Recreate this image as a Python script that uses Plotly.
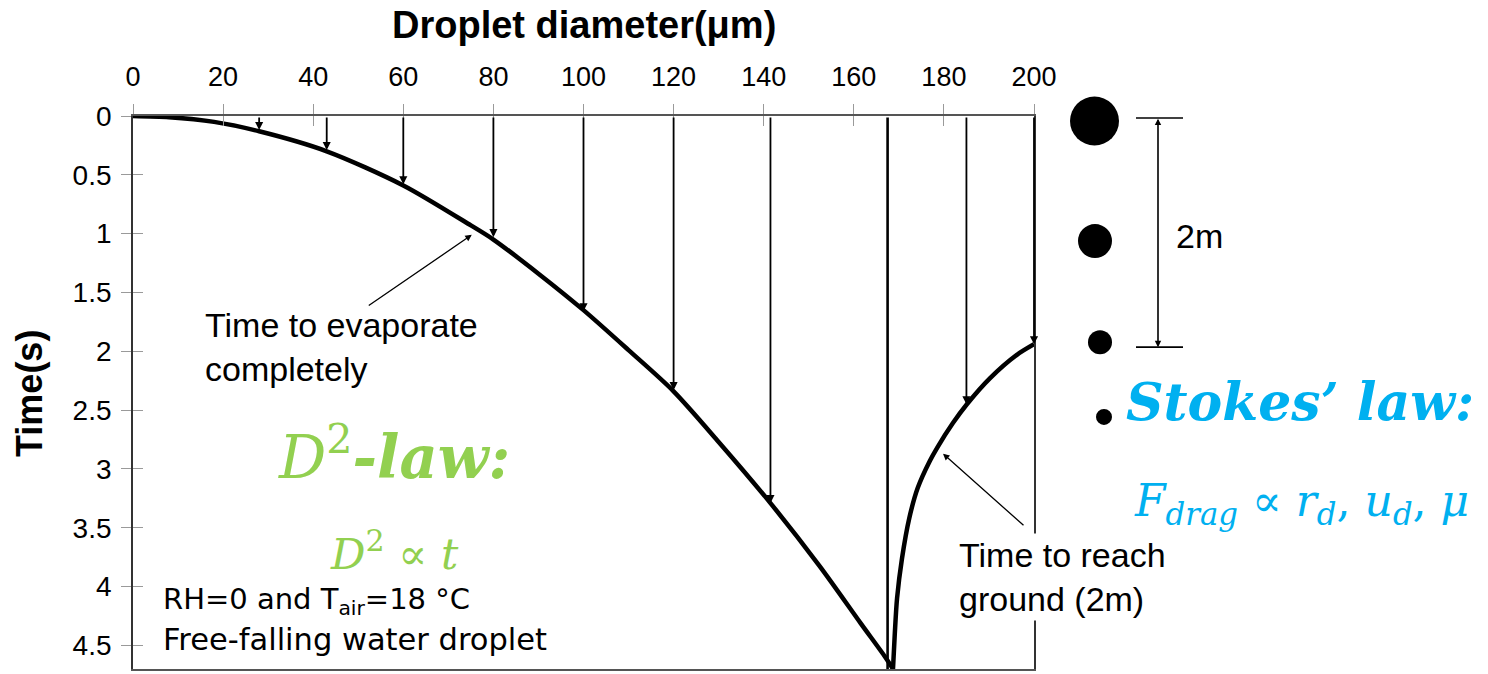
import plotly.graph_objects as go

# ---- data -------------------------------------------------------------
# time for a droplet to evaporate completely (D^2 law)
evap_d = [0, 8, 18, 28, 43, 60, 75, 80, 90, 100, 110, 120, 130, 141.5, 152.5, 161.5, 167, 168.7]
evap_t = [0, 0.01, 0.05, 0.13, 0.30, 0.59, 0.93, 1.05, 1.34, 1.65, 1.99, 2.34, 2.77, 3.29, 3.83, 4.31, 4.60, 4.70]

# time for a free-falling droplet to reach the ground (2 m)
ground_d = [168.7, 169.1, 169.6, 170.7, 172.3, 174.2, 176.9, 178.5, 182.0, 185.1, 190.2, 196.2, 200]
ground_t = [4.70, 4.40, 4.10, 3.76, 3.42, 3.16, 2.93, 2.82, 2.61, 2.45, 2.23, 2.03, 1.94]

# droplet trajectories: start diameter and the time where each one ends
drop_d = [28, 43, 60, 80, 100, 120, 141.5, 167.5, 185, 200]
drop_t = [0.12, 0.29, 0.58, 1.03, 1.66, 2.33, 3.29, 4.70, 2.45, 1.94]

x_ticks = [0, 20, 40, 60, 80, 100, 120, 140, 160, 180, 200]
y_ticks = [0, 0.5, 1, 1.5, 2, 2.5, 3, 3.5, 4, 4.5]

# ---- layout geometry (pixels) -----------------------------------------
W, H = 1488, 674
L, R, T, B = 133, 1034, 116, 671


def px(x):
    return (x - L) / (R - L)


def py(y):
    return (B - y) / (B - T)


SANS = "Liberation Sans, Arial, sans-serif"
VERD = "DejaVu Sans, Verdana, sans-serif"
SERIF = "DejaVu Serif, Cambria, serif"
GREEN = "#92D050"
CYAN = "#00B0F0"

fig = go.Figure()

fig.add_trace(go.Scatter(x=evap_d, y=evap_t, mode="lines",
                         line=dict(color="black", width=4.5, shape="spline", smoothing=0.8),
                         cliponaxis=False, showlegend=False, hoverinfo="skip"))
fig.add_trace(go.Scatter(x=ground_d, y=ground_t, mode="lines",
                         line=dict(color="black", width=4.5, shape="spline", smoothing=0.8),
                         cliponaxis=False, showlegend=False, hoverinfo="skip"))
# companion axes carrying the inner half of the crossing tick marks
fig.add_trace(go.Scatter(x=[None], y=[None], xaxis="x2", yaxis="y2",
                         showlegend=False, hoverinfo="skip"))

annotations = []

# falling droplet arrows
for d, t in zip(drop_d, drop_t):
    last = t >= 4.69
    annotations.append(dict(
        x=d, y=t, ax=d, ay=0, xref="x", yref="y", axref="x", ayref="y",
        text="", showarrow=True, arrowhead=0 if last else 2,
        arrowsize=0.9, arrowwidth=2.6 if last else 1.8, arrowcolor="black",
        standoff=0, startstandoff=0))

# callout arrows
annotations.append(dict(x=75.2, y=1.01, ax=52, ay=1.62, xref="x", yref="y",
                        axref="x", ayref="y", text="", showarrow=True,
                        arrowhead=2, arrowsize=1, arrowwidth=1.3, arrowcolor="black"))
annotations.append(dict(x=179.8, y=2.87, ax=198, ay=3.49, xref="x", yref="y",
                        axref="x", ayref="y", text="", showarrow=True,
                        arrowhead=2, arrowsize=1, arrowwidth=1.3, arrowcolor="black"))

annotations.append(dict(x=px(203), y=py(348), xref="paper", yref="paper",
                        xanchor="left", yanchor="middle", align="left", showarrow=False,
                        text="Time to evaporate<br>completely",
                        font=dict(family=SANS, size=34, color="black")))
annotations.append(dict(x=px(956), y=py(579), xref="paper", yref="paper",
                        xanchor="left", yanchor="middle", align="left", showarrow=False,
                        text="Time to reach<br>ground (2m)", bgcolor="white", borderpad=2,
                        font=dict(family=SANS, size=34, color="black")))

# D^2 law
annotations.append(dict(x=px(276), y=py(455), xref="paper", yref="paper",
                        xanchor="left", yanchor="middle", showarrow=False,
                        text="<i>D</i><sup>2</sup><b><i>-law:</i></b>",
                        font=dict(family=SERIF, size=59, color=GREEN)))
annotations.append(dict(x=px(328), y=py(553), xref="paper", yref="paper",
                        xanchor="left", yanchor="middle", showarrow=False,
                        text="<i>D</i><sup>2</sup> ∝ <i>t</i>",
                        font=dict(family=SERIF, size=43, color=GREEN)))

# conditions
annotations.append(dict(x=px(161), y=py(603), xref="paper", yref="paper",
                        xanchor="left", yanchor="middle", showarrow=False,
                        text="RH=0 and T<sub>air</sub>=18 °C",
                        font=dict(family=VERD, size=29, color="black")))
annotations.append(dict(x=px(161), y=py(641), xref="paper", yref="paper",
                        xanchor="left", yanchor="middle", showarrow=False,
                        text="Free-falling water droplet",
                        font=dict(family=VERD, size=30.5, color="black")))

# Stokes' law
annotations.append(dict(x=px(1124), y=py(403), xref="paper", yref="paper",
                        xanchor="left", yanchor="middle", showarrow=False,
                        text="<b><i>Stokes’ law:</i></b>",
                        font=dict(family=SERIF, size=52, color=CYAN)))
annotations.append(dict(x=px(1132), y=py(505), xref="paper", yref="paper",
                        xanchor="left", yanchor="middle", showarrow=False,
                        text="<i>F</i><sub><i>drag</i></sub> ∝ <i>r</i><sub><i>d</i></sub>, "
                             "<i>u</i><sub><i>d</i></sub>, <i>μ</i>",
                        font=dict(family=SERIF, size=44, color=CYAN)))

# 2 m fall height marker
annotations.append(dict(x=px(1158), y=py(348), xref="paper", yref="paper",
                        ax=0, ay=-230, text="", showarrow=True, arrowhead=2,
                        arrowside="end+start", arrowsize=0.8, arrowwidth=1.6,
                        arrowcolor="black", standoff=0, startstandoff=0))
annotations.append(dict(x=px(1174), y=py(236), xref="paper", yref="paper",
                        xanchor="left", yanchor="middle", showarrow=False,
                        text="2m", font=dict(family=SANS, size=34, color="black")))

# axis titles
annotations.append(dict(x=0.5, y=py(25), xref="paper", yref="paper",
                        xanchor="center", yanchor="middle", showarrow=False,
                        text="<b>Droplet diameter(μm)</b>",
                        font=dict(family=SANS, size=38, color="black")))
annotations.append(dict(x=px(30), y=py(395), xref="paper", yref="paper",
                        xanchor="center", yanchor="middle", showarrow=False, textangle=-90,
                        text="<b>Time(s)</b>",
                        font=dict(family=SANS, size=36, color="black")))

shapes = []
# shrinking droplet icons
for cx, cy, r in [(1094.5, 121, 24.5), (1095, 241.5, 17), (1100, 343, 12), (1104, 418, 8)]:
    shapes.append(dict(type="circle", xref="paper", yref="paper",
                       x0=px(cx - r), x1=px(cx + r), y0=py(cy + r), y1=py(cy - r),
                       fillcolor="black", line=dict(width=0)))
for yy in (118, 348):
    shapes.append(dict(type="line", xref="paper", yref="paper",
                       x0=px(1136), x1=px(1183), y0=py(yy), y1=py(yy),
                       line=dict(color="black", width=1.6)))

fig.update_layout(
    width=W, height=H,
    margin=dict(l=L, r=W - R, t=T, b=H - B, pad=0),
    paper_bgcolor="white", plot_bgcolor="white",
    font=dict(family=SANS, color="black"),
    showlegend=False,
    annotations=annotations,
    shapes=shapes,
    xaxis=dict(range=[0, 200], side="top", tickvals=x_ticks,
               ticks="outside", ticklen=10, tickwidth=1, tickcolor="#9a9a9a",
               showline=True, linecolor="#555", linewidth=1.5, mirror=True,
               showgrid=False, zeroline=False, fixedrange=True,
               tickfont=dict(family=SANS, size=27, color="black"),
               ticklabelstandoff=7),
    yaxis=dict(range=[4.7, 0], tickvals=y_ticks,
               ticks="outside", ticklen=10, tickwidth=1, tickcolor="#9a9a9a",
               showline=True, linecolor="#333", linewidth=1.8, mirror=True,
               showgrid=False, zeroline=False, fixedrange=True,
               tickfont=dict(family=SANS, size=28, color="black"),
               ticklabelstandoff=4),
    xaxis2=dict(range=[0, 200], overlaying="x", side="top", anchor="y2",
                tickvals=x_ticks, ticks="inside", ticklen=10, tickwidth=1,
                tickcolor="#9a9a9a", showticklabels=False, showline=False,
                showgrid=False, zeroline=False, fixedrange=True),
    yaxis2=dict(range=[4.7, 0], overlaying="y", side="left", anchor="x2",
                tickvals=y_ticks, ticks="inside", ticklen=10, tickwidth=1,
                tickcolor="#9a9a9a", showticklabels=False, showline=False,
                showgrid=False, zeroline=False, fixedrange=True),
)

fig.write_html("out.html")
